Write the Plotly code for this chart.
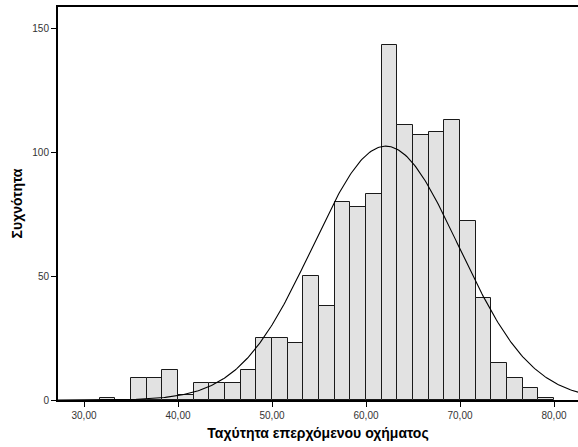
import numpy as np
import plotly.graph_objects as go

# Histogram of oncoming-vehicle speed, bins of width 5/3 starting at 31.67
bin_width = 5 / 3
first_bin_left = 30 + 5 / 3
counts = [1, 0, 9, 9, 12, 2, 7, 7, 7, 12, 25, 25, 23, 50, 38,
          80, 78, 83, 143, 111, 107, 108, 113, 72, 41, 15, 9, 5, 1]

# Fitted normal curve parameters
mean_speed = 62.1
sd_speed = 7.75
n_obs = sum(counts)

x_tick_vals = [30, 40, 50, 60, 70, 80]
x_tick_text = ["30,00", "40,00", "50,00", "60,00", "70,00", "80,00"]
y_tick_vals = [0, 50, 100, 150]

centers = first_bin_left + bin_width * (np.arange(len(counts)) + 0.5)

fig = go.Figure()
fig.add_trace(go.Bar(
    x=centers, y=counts, width=bin_width,
    marker=dict(color="#e2e2e2", line=dict(color="#1a1a1a", width=1)),
    hoverinfo="x+y",
))

xs = np.linspace(27.0, 83.0, 400)
density = n_obs * bin_width / (sd_speed * np.sqrt(2 * np.pi)) * \
    np.exp(-0.5 * ((xs - mean_speed) / sd_speed) ** 2)
fig.add_trace(go.Scatter(x=xs, y=density, mode="lines",
                         line=dict(color="black", width=1.1)))

font_family = "Liberation Sans, Arial, sans-serif"
fig.update_layout(
    width=578, height=447,
    margin=dict(l=58, r=0, t=7, b=47),
    paper_bgcolor="white", plot_bgcolor="white",
    showlegend=False, bargap=0,
    font=dict(family=font_family, size=10, color="#333"),
    xaxis=dict(
        range=[27.234, 82.553], tickvals=x_tick_vals, ticktext=x_tick_text,
        showgrid=False, zeroline=False, showline=True, linecolor="black",
        linewidth=2, mirror=True, ticks="outside", ticklen=5, tickwidth=1,
        tickcolor="black", tickfont=dict(size=10, color="#333"),
        title=dict(text="<b>Ταχύτητα επερχόμενου οχήματος</b>",
                   font=dict(size=14, color="black"), standoff=8),
    ),
    yaxis=dict(
        range=[0, 158.47], tickvals=y_tick_vals,
        showgrid=False, zeroline=False, showline=True, linecolor="black",
        linewidth=2, ticks="outside", ticklen=5, tickwidth=1,
        tickcolor="black", tickfont=dict(size=10, color="#333"),
        title=dict(text="<b>Συχνότητα</b>",
                   font=dict(size=14, color="black"), standoff=6),
    ),
)

fig.write_html("out.html")
